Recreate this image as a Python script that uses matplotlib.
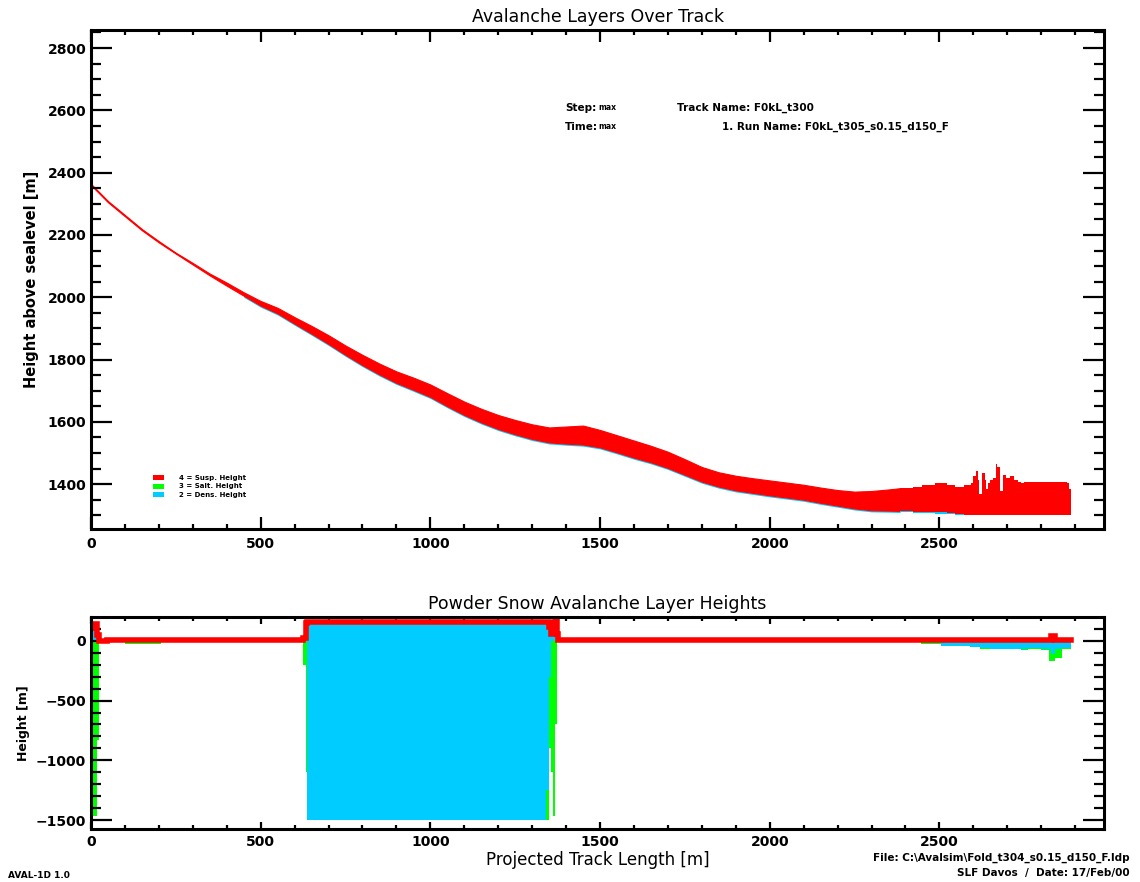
import matplotlib
matplotlib.use("Agg")
import matplotlib.pyplot as plt
import numpy as np
from matplotlib.patches import Rectangle

plt.rcParams['font.family'] = ['DejaVu Sans']

RED = '#ff0000'
GREEN = '#00ff00'
CYAN = '#00ccff'

# ---- upper panel: terrain profile and suspension layer over the track ----
track_x = [0, 50, 100, 150, 200, 250, 300, 350, 400, 450, 500, 550, 600, 650,
           700, 750, 800, 850, 900, 950, 1000, 1050, 1100, 1150, 1200, 1250,
           1300, 1350, 1400, 1450, 1500, 1550, 1600, 1650, 1700, 1750, 1800,
           1850, 1900, 1950, 2000, 2050, 2100, 2150, 2200, 2250, 2300, 2350,
           2384]
ground = [2360, 2305, 2260, 2215, 2176, 2140, 2105, 2070, 2037, 2005, 1973,
          1948, 1915, 1883, 1850, 1815, 1782, 1752, 1725, 1703, 1680, 1650,
          1622, 1598, 1577, 1560, 1545, 1534, 1530, 1527, 1518, 1502, 1485,
          1470, 1452, 1430, 1408, 1392, 1380, 1372, 1364, 1357, 1350, 1340,
          1331, 1322, 1316, 1315, 1314]
susp_top = [2364, 2309, 2264, 2219, 2180, 2143, 2110, 2076, 2047, 2016, 1988,
            1966, 1936, 1908, 1878, 1845, 1815, 1787, 1762, 1742, 1720, 1692,
            1665, 1642, 1622, 1606, 1592, 1582, 1585, 1588, 1574, 1557, 1540,
            1523, 1504, 1480, 1455, 1438, 1427, 1419, 1412, 1405, 1398, 1389,
            1381, 1376, 1378, 1383, 1387]

# runout zone, stepped cells
runout_x = [2384, 2423, 2450, 2486, 2521, 2545, 2571, 2592, 2598, 2608, 2613,
            2617, 2625, 2633, 2637, 2643, 2649, 2657, 2666, 2669, 2678, 2687,
            2696, 2708, 2719, 2733, 2739, 2749, 2875, 2881, 2887]
runout_ground = [1314, 1312, 1311, 1310, 1308, 1305, 1302, 1302, 1302, 1302,
                 1302, 1302, 1302, 1302, 1302, 1302, 1302, 1302, 1302, 1302,
                 1302, 1302, 1302, 1302, 1302, 1302, 1302, 1302, 1302, 1302,
                 1302]
runout_top = [1387, 1390, 1397, 1404, 1397, 1390, 1397, 1404, 1426, 1442, 1413,
              1368, 1436, 1413, 1384, 1404, 1413, 1420, 1465, 1455, 1378, 1430,
              1420, 1426, 1413, 1406, 1404, 1406, 1404, 1384, 1333]

legend_labels = ['4 = Susp. Height', '3 = Salt. Height', '2 = Dens. Height']

# ---- lower panel: layer heights ----
layer_x = [0, 3, 7, 17, 24, 46, 100, 206, 624, 628, 633, 636, 1342, 1349,
           1355, 1361, 1366, 1373, 1377, 2445, 2460, 2486, 2506, 2545, 2590,
           2620, 2650, 2740, 2760, 2800, 2822, 2830, 2840, 2860, 2887]
susp_h = [110, 140, 140, 50, -2, 8, 8, 8, 22, 22, 150, 162, 162, 120, 60, 150,
          170, 60, 8, 8, 8, 8, 8, 8, 8, 8, 8, 8, 8, 8, 8, 45, 8, 8, 8]
dens_h = [-725, 0, 0, 0, 0, 0, 0, 0, 0, 0, 0, -1500, -1250, -300, 0, 0, 0, 0,
          0, 0, -19, -19, -39, -45, -53, -60, -69, -69, -60, -69, -69, -110,
          -69, -60, -60]
salt_h = [-1380, -1470, -1470, -830, 0, 0, -25, 0, -200, -200, -1100, 0,
          -1500, -900, -1100, -1470, -700, 0, 0, -30, -30, -30, -40, -45, -55,
          -65, -72, -80, -70, -75, -165, -165, -140, -70, -70]

fig = plt.figure(figsize=(11.4, 8.82), dpi=100)
W, H = 1140, 882
ax1 = fig.add_axes([91 / W, 1 - 529 / H, (1104 - 91) / W, (529 - 30) / H])
ax2 = fig.add_axes([91 / W, 1 - 829 / H, (1104 - 91) / W, (829 - 617) / H])

# upper panel drawing
g = np.array(ground, dtype=float)
tx = np.array(track_x, dtype=float)
mask = tx >= 450
ax1.fill_between(tx[mask], g[mask] - 5, g[mask], color=CYAN, lw=0)
ax1.fill_between(track_x, ground, susp_top, color=RED, lw=0.8, edgecolor=RED)
rg = np.array(runout_ground, dtype=float)
ax1.fill_between(runout_x[:7], rg[:7] - 5, rg[:7], step='post', color=CYAN, lw=0)
ax1.fill_between(runout_x, runout_ground, runout_top, step='post', color=RED, lw=0)

ax1.set_xlim(0, 2985)
ax1.set_ylim(1256, 2858)
ax1.set_xticks(np.arange(0, 3000, 500))
ax1.set_xticks(np.arange(0, 2985, 100), minor=True)
ax1.set_yticks(np.arange(1400, 2801, 200))
ax1.set_yticks(np.arange(1300, 2858, 50), minor=True)
ax1.set_title('Avalanche Layers Over Track', fontsize=12.5, pad=6)
ax1.set_ylabel('Height above sealevel [m]', fontsize=10.5, fontweight='bold',
               labelpad=6)

# small annotation block
ann = dict(transform=ax1.transAxes, fontsize=7.5, fontweight='bold', va='center')
def ax_x(px):
    return (px - 91) / (1104 - 91)
def ax_y(py):
    return (529 - py) / (529 - 30)
ax1.text(ax_x(565), ax_y(108), 'Step:', **ann)
ax1.text(ax_x(598), ax_y(108), 'max', transform=ax1.transAxes, fontsize=5.5,
         fontweight='bold', va='center')
ax1.text(ax_x(677), ax_y(108), 'Track Name: F0kL_t300', **ann)
ax1.text(ax_x(565), ax_y(127), 'Time:', **ann)
ax1.text(ax_x(598), ax_y(127), 'max', transform=ax1.transAxes, fontsize=5.5,
         fontweight='bold', va='center')
ax1.text(ax_x(722), ax_y(127), '1. Run Name: F0kL_t305_s0.15_d150_F', **ann)

# legend keys
for i, (lab, col) in enumerate(zip(legend_labels, [RED, GREEN, CYAN])):
    yc = 478 + i * 8.5
    ax1.add_patch(Rectangle((ax_x(153), ax_y(yc + 2.5)), 11 / 1013, 5 / 499,
                            transform=ax1.transAxes, color=col, lw=0))
    ax1.text(ax_x(179), ax_y(yc), lab, transform=ax1.transAxes, fontsize=5,
             fontweight='bold', va='center')

# lower panel drawing
ax2.fill_between(layer_x, salt_h, 0, step='post', color=GREEN, lw=0)
ax2.fill_between(layer_x, dens_h, susp_h, step='post', color=CYAN, lw=0)
ax2.step(layer_x, susp_h, where='post', color=RED, lw=4,
         solid_joinstyle='miter')

ax2.set_xlim(0, 2985)
ax2.set_ylim(-1575, 200)
ax2.set_xticks(np.arange(0, 3000, 500))
ax2.set_xticks(np.arange(0, 2985, 100), minor=True)
ax2.set_yticks([-1500, -1000, -500, 0])
ax2.set_yticks(np.arange(-1500, 200, 100), minor=True)
ax2.set_title('Powder Snow Avalanche Layer Heights', fontsize=12.5, pad=6)
ax2.set_ylabel('Height [m]', fontsize=9, fontweight='bold', labelpad=4)
ax2.set_xlabel('Projected Track Length [m]', fontsize=12, labelpad=2)

for ax in (ax1, ax2):
    for s in ax.spines.values():
        s.set_linewidth(2.2)
    ax.tick_params(which='both', direction='in', top=True, right=True,
                   width=1.6, labelsize=10)
    for lab in ax.get_xticklabels() + ax.get_yticklabels():
        lab.set_fontweight('bold')

ax1.tick_params(axis='y', which='major', length=15)
ax1.tick_params(axis='y', which='minor', length=7)
ax1.tick_params(axis='x', which='major', length=8.5, pad=6)
ax1.tick_params(axis='x', which='minor', length=3.6)
ax2.tick_params(axis='y', which='major', length=15)
ax2.tick_params(axis='y', which='minor', length=7)
ax2.tick_params(axis='x', which='major', length=5, pad=4)
ax2.tick_params(axis='x', which='minor', length=3)

# footer notes
fig.text(1130 / W, 1 - 858 / H, r'File: C:\Avalsim\Fold_t304_s0.15_d150_F.ldp',
         ha='right', va='center', fontsize=7.5, fontweight='bold')
fig.text(1130 / W, 1 - 873 / H, 'SLF Davos  /  Date: 17/Feb/00',
         ha='right', va='center', fontsize=7.5, fontweight='bold')
fig.text(8 / W, 1 - 875 / H, 'AVAL-1D 1.0', ha='left', va='center',
         fontsize=6.5, fontweight='bold')

fig.savefig('out.png', dpi=100, facecolor='white')
